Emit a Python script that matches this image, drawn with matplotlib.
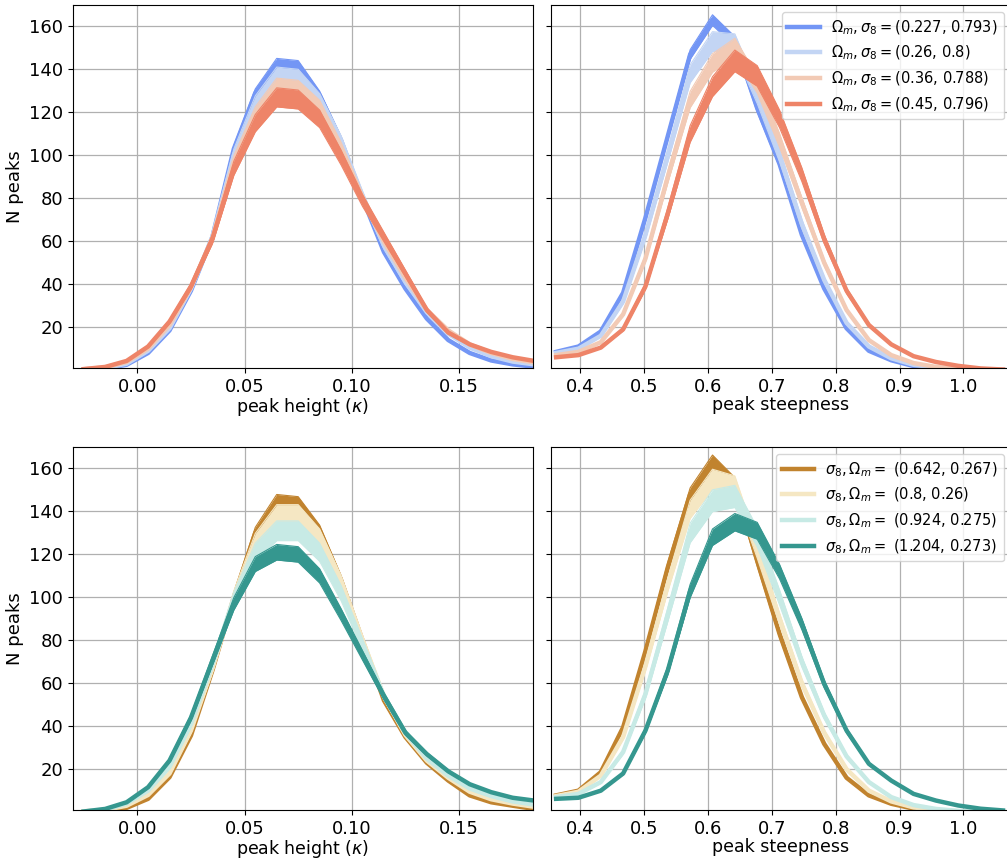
import numpy as np
import matplotlib
matplotlib.use("Agg")
import matplotlib.pyplot as plt

# ---------------- data ----------------
height_x = [-0.025, -0.015, -0.005, 0.005, 0.015, 0.025, 0.035, 0.045, 0.055, 0.065, 0.075,
            0.085, 0.095, 0.105, 0.115, 0.125, 0.135, 0.145, 0.155, 0.165, 0.175, 0.185]
steep_x = [0.362, 0.397, 0.432, 0.467, 0.502, 0.537, 0.572, 0.607, 0.642, 0.677, 0.712,
           0.747, 0.782, 0.817, 0.852, 0.887, 0.922, 0.957, 0.992, 1.027, 1.062]

om_labels = [r'$\Omega_m, \sigma_8 = $(0.227, 0.793)', r'$\Omega_m, \sigma_8 = $(0.26, 0.8)',
             r'$\Omega_m, \sigma_8 = $(0.36, 0.788)', r'$\Omega_m, \sigma_8 = $(0.45, 0.796)']
s8_labels = [r'$\sigma_8, \Omega_m = $ (0.642, 0.267)', r'$\sigma_8, \Omega_m = $ (0.8, 0.26)',
             r'$\sigma_8, \Omega_m = $ (0.924, 0.275)', r'$\sigma_8, \Omega_m = $ (1.204, 0.273)']

om_height = [
    [0.3, 0.8, 2.5, 8, 18.5, 37, 62, 103, 129, 143, 142, 128, 107, 80, 55, 38, 24, 14, 8, 4.5, 2.7, 1.6],
    [0.4, 1.0, 3.0, 9, 19.5, 38, 62, 100, 124, 137, 136, 125, 106, 81, 58, 41, 27, 17, 10.5, 6.5, 4, 2.7],
    [0.4, 1.3, 3.8, 10, 21, 38.5, 61.5, 97, 119, 132, 131, 122, 103, 80, 60, 43, 28, 18.5, 12, 8, 5.2, 3.6],
    [0.5, 1.5, 4.3, 11, 22.6, 39, 61, 94, 115, 127, 126, 117, 99, 79, 62, 45, 28, 17.5, 12, 8.5, 6, 4.3],
]
om_steep = [
    [8.5, 11, 18, 36, 71, 109, 147, 163, 153, 122, 96, 63, 38, 19.5, 9, 4.6, 1.9, 0.8, 0.3, 0.1, 0.05],
    [8, 10, 16, 32, 63, 100, 138, 153, 152, 128, 100, 68, 42, 22, 11, 5.5, 2.5, 1.1, 0.4, 0.15, 0.05],
    [7, 8.5, 13, 26, 52, 90, 126, 143, 150, 133, 107, 78, 50, 28, 14, 7, 3.3, 1.5, 0.7, 0.3, 0.1],
    [6, 7, 10.5, 19, 39, 73, 110, 132, 144, 137, 117, 91, 61, 37, 21, 12, 6.5, 3.8, 2, 0.8, 0.3],
]
s8_height = [
    [0.2, 0.6, 2.0, 6.2, 16.3, 35.7, 66, 100, 130, 145, 144, 131, 108, 80, 52, 35, 23, 14.7, 7.8, 4.6, 3, 1.5],
    [0.4, 1.0, 3.0, 8, 18, 38, 67, 100, 126, 139, 139, 128, 107, 80, 54, 36, 24, 16, 9.5, 6, 4, 2.5],
    [0.3, 1.2, 4.0, 10, 21, 41, 69, 99, 121, 131, 131, 121, 102, 78, 54, 37, 25, 17, 11, 7.5, 5, 3.5],
    [0.3, 1.5, 4.6, 11.6, 24, 44, 70.5, 97, 115.5, 121, 120, 110, 92, 73, 54, 37, 27, 19, 13, 9.3, 6.7, 5.4],
]
s8_steep = [
    [7.8, 10, 18.6, 39.5, 75, 114, 148, 163, 152.7, 117, 83, 53.5, 31.8, 16, 7.8, 3.9, 1.6, 0.7, 0.3, 0.1, 0.05],
    [7.5, 9.5, 17, 35, 68, 106, 141, 155, 152, 122, 90, 60, 37, 20, 10, 5, 2.2, 1, 0.4, 0.15, 0.05],
    [7, 8.5, 14, 28, 55, 92, 130, 145, 147, 128, 100, 70, 45, 26, 14, 7, 3.3, 1.5, 0.6, 0.25, 0.1],
    [6.2, 6.7, 10, 18, 38, 66, 103, 128, 135, 131, 112, 87.6, 59.7, 38, 22.5, 14.7, 8.5, 5.4, 3.1, 1.6, 0.8],
]
# relative scatter of the realisations around each mean curve
om_spread = [0.015, 0.03, 0.03, 0.035]
s8_spread = [0.02, 0.03, 0.035, 0.03]

om_colors = ['#7396f5', '#c3d5f4', '#f2cab5', '#ee8468']
s8_colors = ['#c1832e', '#f5e7c3', '#c7eae5', '#35978f']

# ---------------- figure ----------------
plt.rcParams['font.family'] = ['DejaVu Sans']
fig = plt.figure(figsize=(10.07, 8.58), dpi=100)
W, H = 1007.0, 858.0
aw, ah = 460 / W, 363 / H
axTL = fig.add_axes([73 / W, (H - 368) / H, aw, ah])
axTR = fig.add_axes([551 / W, (H - 368) / H, aw, ah], sharey=axTL)
axBL = fig.add_axes([73 / W, (H - 810) / H, aw, ah], sharey=axTL)
axBR = fig.add_axes([551 / W, (H - 810) / H, aw, ah], sharey=axTL)


def draw(ax, x, curves, spreads, colors, labels):
    x = np.asarray(x)
    for y, s, c, lab in zip(curves, spreads, colors, labels):
        y = np.asarray(y, dtype=float)
        lo, hi = y * (1 - s), y * (1 + s)
        ax.fill_between(x, lo, hi, color=c, lw=0, zorder=2)
        ax.plot(x, lo, color=c, lw=0.8, zorder=2)
        ax.plot(x, hi, color=c, lw=0.8, zorder=2)
        ax.plot(x, y, color=c, lw=3.2, zorder=2, label=lab)


draw(axTL, height_x, om_height, om_spread, om_colors, om_labels)
draw(axTR, steep_x, om_steep, om_spread, om_colors, om_labels)
draw(axBL, height_x, s8_height, s8_spread, s8_colors, s8_labels)
draw(axBR, steep_x, s8_steep, s8_spread, s8_colors, s8_labels)

for ax, pad in ((axTL, 0.5), (axBL, 0.0)):
    ax.set_xlim(-0.03, 0.1845)
    ax.set_xticks([0.0, 0.05, 0.10, 0.15])
    ax.set_xticklabels(['0.00', '0.05', '0.10', '0.15'])
    ax.set_xlabel(r'peak height ($\kappa$)', fontsize=12.5, labelpad=pad)
    ax.set_ylabel('N peaks', fontsize=13)
for ax, pad in ((axTR, 0.5), (axBR, 0.0)):
    ax.set_xlim(0.354, 1.0746)
    ax.set_xticks([0.4, 0.5, 0.6, 0.7, 0.8, 0.9, 1.0])
    ax.set_xlabel('peak steepness', fontsize=12.5, labelpad=pad)
    ax.tick_params(labelleft=False)
    ax.legend(loc='upper right', fontsize=10.5, handlelength=2.2, framealpha=0.8)

axTL.set_ylim(1, 170)
axTL.set_yticks([20, 40, 60, 80, 100, 120, 140, 160])
for ax in (axTL, axTR, axBL, axBR):
    ax.grid(True, color='#b0b0b0', lw=0.9)
    ax.tick_params(labelsize=13)

fig.savefig('out.png', dpi=100)
